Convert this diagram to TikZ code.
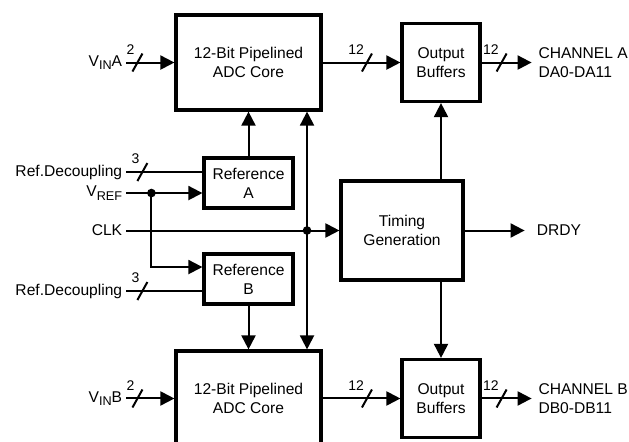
\documentclass[tikz,border=0pt]{standalone}
\usepackage{fontspec}
\setmainfont{Liberation Sans}
\usetikzlibrary{shapes, arrows.meta, positioning}

\newcommand{\lowtxt}[1]{\raisebox{-0.4ex}{\fontsize{9.5}{10}\selectfont #1}}

\tikzstyle{core} = [rectangle, draw=black, line width=2.4pt, minimum width=108.75pt, minimum height=71.25pt, align=center]
\tikzstyle{refbox} = [rectangle, draw=black, line width=2.4pt, minimum width=66.75pt, minimum height=37.5pt, align=center]
\tikzstyle{outbox} = [rectangle, draw=black, line width=2.4pt, minimum width=58.5pt, minimum height=58.5pt, align=center]
\tikzstyle{timebox} = [rectangle, draw=black, line width=2.4pt, minimum width=91.5pt, minimum height=74.25pt, align=center]
\tikzstyle{sig} = [anchor=east, inner sep=3pt]
\tikzstyle{outsig} = [anchor=west, inner sep=5pt, align=left]
\tikzstyle{line} = [draw, line width=1.5pt, -{Triangle[length=10.5pt,width=10.5pt]}]
\tikzstyle{wire} = [draw, line width=1.5pt]
\tikzstyle{dline} = [draw, line width=1.5pt, {Triangle[length=10.5pt,width=10.5pt]}-{Triangle[length=10.5pt,width=10.5pt]}]
\tikzstyle{dot} = [circle, fill=black, inner sep=0pt, minimum size=6.5pt]
\tikzstyle{buslbl} = [anchor=south east, inner sep=0pt, font=\fontsize{10.5}{11}\selectfont]

\tikzset{bus/.pic={\draw[-, line width=1.5pt] (-3.75pt,-6.75pt) -- (3.75pt,6.75pt); \node[buslbl] at (-1.5pt,5.25pt) {#1};}}

\begin{document}
\begin{tikzpicture}[font=\fontsize{11.7}{14}\selectfont]
	\useasboundingbox (-186.4pt,46.9pt) rectangle (285.4pt,-283.9pt);

	% Blocks
	\node(adcA)  [core] {12-Bit Pipelined\\ADC Core};
	\node(refA)  [refbox, below of=adcA, node distance=90.4pt] {Reference\\A};
	\node(refB)  [refbox, below of=refA, node distance=72pt] {Reference\\B};
	\node(adcB)  [core, below of=refB, node distance=89.6pt] {12-Bit Pipelined\\ADC Core};
	\node(outA)  [outbox, right of=adcA, node distance=144.4pt] {Output\\Buffers};
	\node(outB)  [outbox, right of=adcB, node distance=144.4pt] {Output\\Buffers};
	\node(timing) [timebox, below of=outA, node distance=126pt, xshift=-29.25pt] {Timing\\Generation};

	% Signals
	\node(vinA)  [sig, left=36pt of adcA] {V\lowtxt{IN}A};
	\node(refdecA) [sig, yshift=8.25pt] at (vinA.east |- refA) {Ref.Decoupling};
	\node(vref)  [sig, yshift=-7.5pt] at (vinA.east |- refA) {V\lowtxt{REF}};
	\node(clk)   [sig] at (vinA.east |- timing) {CLK};
	\node(refdecB) [sig, yshift=-9pt] at (vinA.east |- refB) {Ref.Decoupling};
	\node(vinB)  [sig] at (vinA.east |- adcB) {V\lowtxt{IN}B};
	\node(chA)   [outsig, right=37.5pt of outA] {CHANNEL A\\DA0-DA11};
	\node(chB)   [outsig, right=37.5pt of outB] {CHANNEL B\\DB0-DB11};
	\node(drdy)  [outsig, inner xsep=9pt, right=45pt of timing] {DRDY};

	\coordinate[right=18.75pt of vref] (vrefdot);
	\coordinate[above=9pt of refB.west] (refBin);
	\coordinate[right of=adcA, node distance=43.9pt] (busx);
	\coordinate (clkdot) at (busx |- timing);

	% Draw edges
	\path [line] (vinA) -- pic[pos=0.23]{bus=2} (adcA);
	\path [wire] (refdecA) -- pic[pos=0.21]{bus=3} (refdecA -| refA.west);
	\path [line] (vref) -- (vref -| refA.west);
	\path [line] (vrefdot) |- (refBin);
	\path [line] (clk) -- (timing);
	\path [wire] (refdecB) -- pic[pos=0.21]{bus=3} (refdecB -| refB.west);
	\path [line] (vinB) -- pic[pos=0.23]{bus=2} (adcB);

	\path [line] (refA) -- (adcA);
	\path [line] (refB) -- (adcB);
	\path [dline] (busx |- adcA.south) -- (busx |- adcB.north);

	\path [line] (adcA) -- pic[pos=0.57]{bus=12} (outA);
	\path [line] (outA) -- pic[pos=0.4]{bus=12} (chA);
	\path [line] (adcB) -- pic[pos=0.57]{bus=12} (outB);
	\path [line] (outB) -- pic[pos=0.4]{bus=12} (chB);
	\path [line] (outA |- timing.north) -- (outA);
	\path [line] (outB |- timing.south) -- (outB);
	\path [line] (timing) -- (drdy);

	\node[dot] at (vrefdot) {};
	\node[dot] at (clkdot) {};
\end{tikzpicture}
\end{document}
